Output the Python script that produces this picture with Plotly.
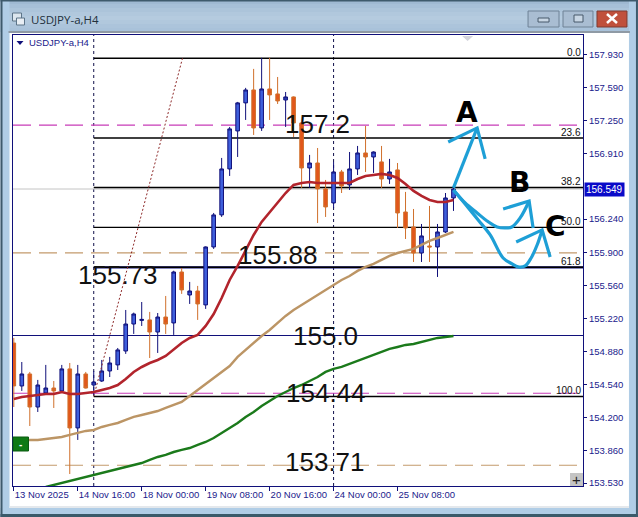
import plotly.graph_objects as go

WIDTH, HEIGHT = 638, 517
ML, MR, MT, MB = 12.5, 55, 35, 31

opens = [154.968,154.527,154.650,154.311,154.455,154.506,154.476,154.702,154.096,154.650,154.537,154.578,154.681,154.743,
         154.886,155.163,155.200,155.205,155.081,155.235,155.174,155.697,155.461,155.502,155.359,155.954,156.283,156.755,
         157.145,157.433,157.566,157.176,157.576,157.525,157.463,157.494,157.227,156.765,156.816,156.550,156.406,156.724,
         156.591,156.755,156.919,156.878,156.827,156.652,156.745,156.313,156.159,155.892,155.964,155.954,156.108,156.457]
highs = [155.020,154.773,154.671,154.589,154.743,154.578,154.743,154.763,154.743,154.671,154.681,154.794,154.825,154.917,
         155.307,155.280,155.389,155.287,155.276,155.451,155.710,155.738,155.595,155.554,155.960,156.303,156.868,157.186,
         157.443,157.587,157.782,157.895,157.895,157.699,157.545,157.500,157.235,156.899,156.970,156.642,156.827,156.745,
         156.929,156.991,157.196,156.935,156.991,156.858,156.816,156.519,156.344,156.190,156.375,156.190,156.508,156.591]
lows = [154.311,154.476,154.116,154.260,154.445,154.301,154.465,153.623,153.973,154.500,154.435,154.568,154.619,154.691,
        154.856,155.061,155.143,154.814,154.866,155.061,155.051,155.472,155.369,155.205,155.318,155.934,156.262,156.683,
        156.878,157.258,157.104,157.145,157.258,157.422,157.186,157.083,156.560,156.560,156.200,156.262,156.354,156.508,
        156.539,156.693,156.724,156.714,156.560,156.601,156.149,156.036,155.800,155.800,155.800,155.646,156.098,156.324]
closes = [154.527,154.650,154.311,154.537,154.506,154.476,154.702,154.096,154.650,154.506,154.568,154.681,154.763,154.897,
          155.163,155.266,155.210,155.081,155.235,155.163,155.697,155.513,155.502,155.369,155.954,156.283,156.755,157.166,
          157.433,157.566,157.176,157.576,157.515,157.453,157.494,157.227,156.765,156.816,156.550,156.365,156.724,156.580,
          156.755,156.919,156.878,156.929,156.652,156.724,156.303,156.149,155.892,156.067,155.954,156.108,156.457,156.549]
bars = list(range(56))

ma_red = [154.393,154.414,154.424,154.435,154.445,154.445,154.465,154.445,154.445,154.455,154.465,154.486,154.506,154.537,
          154.599,154.671,154.722,154.763,154.794,154.835,154.897,154.968,155.020,155.051,155.143,155.266,155.430,155.615,
          155.759,155.923,156.077,156.211,156.313,156.406,156.508,156.591,156.611,156.621,156.611,156.611,156.611,156.611,
          156.611,156.652,156.683,156.693,156.704,156.693,156.662,156.601,156.529,156.478,156.437,156.416,156.416,156.437]
ma_tan = [153.962,153.962,153.973,153.973,153.983,153.993,154.003,154.024,154.044,154.065,154.075,154.106,154.127,154.147,
          154.178,154.209,154.229,154.250,154.270,154.301,154.332,154.363,154.424,154.486,154.547,154.609,154.671,154.732,
          154.825,154.897,154.968,155.040,155.102,155.174,155.246,155.307,155.359,155.410,155.461,155.513,155.564,155.615,
          155.656,155.708,155.749,155.780,155.821,155.862,155.892,155.913,155.934,155.975,156.016,156.046,156.077,156.108]
green_bars = list(range(4, 56))
ma_green = [153.490,153.511,153.531,153.552,153.572,153.593,153.613,153.634,153.654,153.675,153.695,153.716,153.736,153.767,
            153.798,153.819,153.849,153.870,153.890,153.921,153.952,153.993,154.044,154.096,154.147,154.209,154.260,154.322,
            154.373,154.424,154.465,154.506,154.537,154.578,154.619,154.671,154.702,154.722,154.753,154.784,154.814,154.845,
            154.876,154.907,154.927,154.948,154.958,154.979,154.999,155.020,155.030,155.040]

price_ticks = [157.93,157.59,157.25,156.91,156.24,155.90,155.56,155.22,154.88,154.54,154.20,153.86,153.53]
price_labels = ["157.930","157.590","157.250","156.910","156.240","155.900","155.560","155.220","154.880","154.540","154.200","153.860","153.530"]
time_ticks = [0, 8, 16, 24, 32, 40, 48]
time_labels = ["13 Nov 2025","14 Nov 16:00","18 Nov 00:00","19 Nov 08:00","20 Nov 16:00","24 Nov 00:00","25 Nov 08:00"]

fib_levels = [157.891,157.072,156.565,156.155,155.745,154.419]
fib_labels = ["0.0","23.6","38.2","50.0","61.8","100.0"]
last_price = 156.549
magenta_levels = [157.204,154.452]
tan_levels = [155.893,153.713]
navy_level = 155.045
separator_bars = [10,40]
fib_trend_x = [10,21.1]
fib_trend_y = [154.419,157.891]

note_text = ["157.2","155.88","155.73","155.0","154.44","153.71"]
note_x = [38.0,33.0,13.0,39,39.0,38.9]
note_y = [157.22,155.87,155.67,155.04,154.45,153.75]

arrow_paths = [
    ([55,57.96],[156.560,157.176]),
    ([54.34,57.96,58.96],[157.032,157.176,156.858]),
    ([55,56.46,57.96,59.2,60.46,61.46,62.3,63.34,64.46],[156.539,156.406,156.303,156.221,156.159,156.149,156.159,156.252,156.426]),
    ([61.21,64.46,64.96],[156.344,156.426,156.149]),
    ([55,56.46,58.09,59.59,61.21,62.34,63.09,63.96,64.71,65.46,66.09],[156.539,156.395,156.231,156.077,155.841,155.780,155.749,155.759,155.841,155.974,156.129]),
    ([62.84,66.09,67.09],[156.005,156.129,155.851]),
]
letter_text = ["A","B","C"]
letter_x = [56.7,63.2,67.8]
letter_y = [157.33,156.62,156.16]

XMIN, XMAX = -0.1, 71.2
YMIN, YMAX = 153.50, 158.13


def px(x):
    return (x - ML) / (WIDTH - ML - MR)


def py(y):
    return 1 - (y - MT) / (HEIGHT - MT - MB)


def rect(x0, y0, x1, y1, fill, line=None, layer="below", lw=1):
    return dict(type="rect", xref="paper", yref="paper", x0=px(x0), x1=px(x1), y0=py(y1), y1=py(y0),
                fillcolor=fill, line=dict(color=line or fill, width=lw if line else 0), layer=layer)


def hline(v, color, width=1, dash="solid", x0=XMIN):
    return dict(type="line", xref="x", yref="y", x0=x0, x1=XMAX, y0=v, y1=v,
                line=dict(color=color, width=width, dash=dash), layer="below")


fig = go.Figure()
fig.add_trace(go.Candlestick(
    x=bars, open=opens, high=highs, low=lows, close=closes,
    increasing=dict(line=dict(color="#10107A", width=1), fillcolor="#3F5FDC"),
    decreasing=dict(line=dict(color="#D0702C", width=1), fillcolor="#E2561A"),
    whiskerwidth=0, hoverinfo="skip", showlegend=False))
fig.add_trace(go.Scatter(x=fib_trend_x, y=fib_trend_y, mode="lines", line=dict(color="#8E2A2A", width=1, dash="2px 2px"), hoverinfo="skip"))
fig.add_trace(go.Scatter(x=green_bars, y=ma_green, mode="lines", line=dict(color="#1B7A1B", width=2.4), hoverinfo="skip"))
fig.add_trace(go.Scatter(x=bars, y=ma_tan, mode="lines", line=dict(color="#BC9565", width=2.4), hoverinfo="skip"))
fig.add_trace(go.Scatter(x=bars, y=ma_red, mode="lines", line=dict(color="#B2242C", width=2.6), hoverinfo="skip"))
for i, (ax, ay) in enumerate(arrow_paths):
    fig.add_trace(go.Scatter(x=ax, y=ay, mode="lines", line=dict(color="#1E9FD6", width=3.2, shape="spline" if i in (2, 4) else "linear"),
                             hoverinfo="skip", cliponaxis=False))

shapes = []
# window frame
bands = ["#9FB9D2", "#A6BFD7", "#ACC4DA", "#B1C8DD", "#B5CBDF", "#B1C8DD", "#ACC4DB", "#A9C2DA"]
for k, c in enumerate(bands):
    shapes.append(rect(0, k * 4, WIDTH, (k + 1) * 4, c))
shapes.append(rect(0, 0, 9, HEIGHT, "#B0CDE6"))
shapes.append(rect(629, 0, WIDTH, HEIGHT, "#B0CDE6"))
shapes.append(rect(0, 508, WIDTH, HEIGHT, "#B0CDE6"))
shapes.append(rect(0, 514, WIDTH, HEIGHT, "#3A5A6A"))
shapes.append(rect(0, 0, 2, HEIGHT, "#3E5A6C"))
shapes.append(rect(636, 0, WIDTH, HEIGHT, "#3E5A6C"))
shapes.append(rect(0, 0, WIDTH, 1.5, "#3E5A6C"))
shapes.append(rect(8, 31, 630, 33, "#8F9AA5"))
shapes.append(rect(9, 506, 629, 508, "#E4E8EC"))
# window buttons
shapes.append(rect(528, 11, 559, 27, "#A9BDD2", "#6E8296"))
shapes.append(rect(563, 11, 593, 27, "#A9BDD2", "#6E8296"))
shapes.append(rect(597, 11, 627, 27, "#C0503C", "#7E3A30"))
shapes.append(rect(538, 18, 549, 22, "#C8D6E4", "#47586A"))
shapes.append(rect(574, 15, 583, 22, "#C8D6E4", "#47586A"))
shapes.append(dict(type="line", xref="paper", yref="paper", x0=px(607), x1=px(617), y0=py(14), y1=py(23), line=dict(color="#FFFFFF", width=2.5)))
shapes.append(dict(type="line", xref="paper", yref="paper", x0=px(607), x1=px(617), y0=py(23), y1=py(14), line=dict(color="#FFFFFF", width=2.5)))
# title icon
shapes.append(rect(12, 13, 21, 21, "#DCE6EE", "#5C7488"))
shapes.append(rect(16, 18, 24, 25, "#E8EEF4", "#5C7488"))
# chart levels
shapes.append(hline(last_price, "#C4C4C4"))
for v in magenta_levels:
    shapes.append(hline(v, "#C83CB8", 1.2, "18px 8px"))
for v in tan_levels:
    shapes.append(hline(v, "#C49A6C", 1.2, "18px 8px"))
shapes.append(hline(navy_level, "#10107A"))
shapes.append(hline(fib_levels[4], "#10107A", 2.2, x0=separator_bars[0]))
for v in fib_levels:
    shapes.append(hline(v, "#000000", 1.4, x0=separator_bars[0]))
for b in separator_bars:
    shapes.append(dict(type="line", xref="x", yref="paper", x0=b, x1=b, y0=0, y1=1,
                       line=dict(color="#10104A", width=1, dash="3px 3px"), layer="below"))
# small controls inside the chart
shapes.append(rect(12.5, 437, 28, 451, "#0E7A14", "#0A5A10", "above"))
shapes.append(rect(570, 473, 583, 486, "#C4C4C4", None, "above"))
shapes.append(dict(type="path", xref="paper", yref="paper", layer="above", line=dict(width=0), fillcolor="#D4D4DC",
                   path=f"M{px(462)},{py(36)} L{px(473)},{py(36)} L{px(467.5)},{py(41)} Z"))
shapes.append(dict(type="path", xref="paper", yref="paper", layer="above", line=dict(width=0), fillcolor="#10107A",
                   path=f"M{px(16)},{py(41)} L{px(23)},{py(41)} L{px(19.5)},{py(45)} Z"))

ann = []
for t, x, y in zip(note_text, note_x, note_y):
    ann.append(dict(text=t, x=x, y=y, xref="x", yref="y", xanchor="center", yanchor="middle", showarrow=False,
                    font=dict(family="Liberation Sans", size=26, color="#111111")))
for t, x, y in zip(letter_text, letter_x, letter_y):
    ann.append(dict(text=f"<b>{t}</b>", x=x, y=y, xref="x", yref="y", xanchor="center", yanchor="middle", showarrow=False,
                    font=dict(family="DejaVu Sans", size=28, color="#000000")))
for t, v in zip(fib_labels, fib_levels):
    ann.append(dict(text=t, x=XMAX, y=v, xref="x", yref="y", xanchor="right", yanchor="bottom", showarrow=False,
                    xshift=-1, yshift=-1, font=dict(family="Liberation Sans", size=10, color="#111111"), borderpad=0))
ann.append(dict(text="156.549", x=1, xref="paper", y=last_price, yref="y", xanchor="left", yanchor="middle", xshift=1, showarrow=False,
                bgcolor="#0A0AC8", font=dict(family="Liberation Sans", size=10, color="#FFFFFF"), borderpad=1))
ann.append(dict(text="USDJPY-a,H4", x=px(26.5), y=py(43), xref="paper", yref="paper", xanchor="left", yanchor="middle", showarrow=False,
                font=dict(family="Liberation Sans", size=9.5, color="#1A1A8C")))
ann.append(dict(text="USDJPY-a,H4", x=px(28.5), y=py(19.5), xref="paper", yref="paper", xanchor="left", yanchor="middle", showarrow=False,
                font=dict(family="Open Sans", size=11.5, color="#22303C")))
ann.append(dict(text="<b>-</b>", x=px(20), y=py(444), xref="paper", yref="paper", xanchor="center", yanchor="middle", showarrow=False,
                font=dict(family="Liberation Sans", size=10, color="#FFFFFF")))
ann.append(dict(text="+", x=px(576.5), y=py(479.5), xref="paper", yref="paper", xanchor="center", yanchor="middle", showarrow=False,
                font=dict(family="Liberation Sans", size=15, color="#222222")))

fig.update_layout(
    width=WIDTH, height=HEIGHT, autosize=False,
    margin=dict(l=ML, r=MR, t=MT, b=MB, pad=0, autoexpand=False),
    paper_bgcolor="#FFFFFF", plot_bgcolor="#FFFFFF",
    showlegend=False, boxgap=0.35, hovermode=False, dragmode=False,
    shapes=shapes, annotations=ann,
    xaxis=dict(range=[XMIN, XMAX], type="linear", rangeslider=dict(visible=False), showgrid=False, zeroline=False, automargin=False,
               tickmode="array", tickvals=time_ticks, ticktext=time_labels, ticks="outside", ticklen=4, tickcolor="#10107A", tickangle=0,
               ticklabelposition="outside right", showline=True, mirror=True, linecolor="#10107A", linewidth=1, ticklabeloverflow="allow",
               tickfont=dict(family="Liberation Sans", size=9.5, color="#1A1A8C")),
    yaxis=dict(range=[YMIN, YMAX], side="right", showgrid=False, zeroline=False, tickmode="array", tickvals=price_ticks, automargin=False,
               ticktext=price_labels, ticks="outside", ticklen=3, tickcolor="#10107A", showline=True, mirror=True, linecolor="#10107A",
               linewidth=1, tickfont=dict(family="Liberation Sans", size=9.5, color="#1A1A8C")),
)
fig.write_html("out.html", config=dict(displayModeBar=False, staticPlot=True),
               post_script="document.body.style.margin='0';document.body.style.overflow='hidden';")
